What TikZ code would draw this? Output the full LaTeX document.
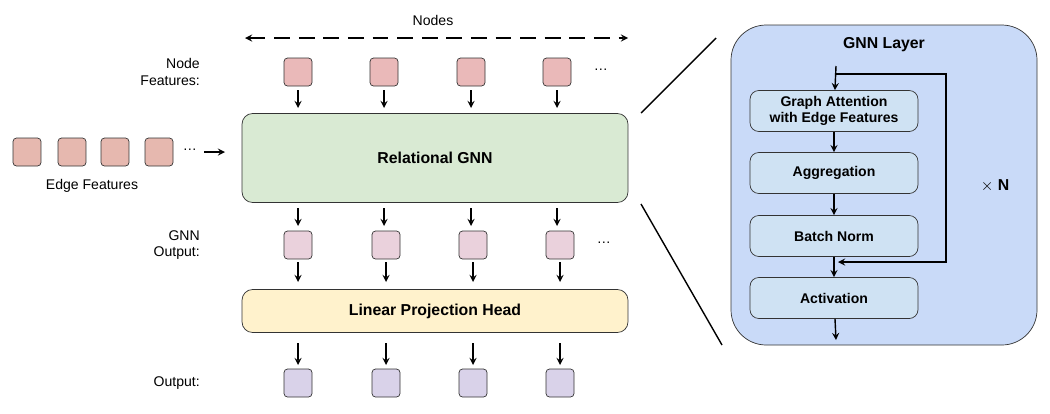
\documentclass[tikz,border=0pt]{standalone}
\usepackage{fontspec}
\setmainfont{Liberation Sans}
\usetikzlibrary{arrows}

\definecolor{nodefeat}{HTML}{EAB9B9}
\definecolor{edgefeat}{HTML}{E6B8AF}
\definecolor{gnnout}{HTML}{EAD1DC}
\definecolor{outfeat}{HTML}{D9D2E9}
\definecolor{gnngreen}{HTML}{D9EAD3}
\definecolor{headyellow}{HTML}{FFF2CC}
\definecolor{layerblue}{HTML}{C9DAF8}
\definecolor{stepblue}{HTML}{CFE2F3}

\tikzset{
  sq/.style={draw=black!80, rounded corners=2pt, minimum size=0.56cm, inner sep=0pt},
  bigbox/.style={draw=black!80, rounded corners=6pt, minimum width=7.72cm, inner sep=0pt, font=\bfseries\fontsize{9}{11}\selectfont},
  stepbox/.style={draw=black!80, fill=stepblue, rounded corners=5pt, minimum width=3.36cm, minimum height=0.82cm, inner sep=1pt, align=center, font=\bfseries\fontsize{8}{9}\selectfont},
  lbl/.style={font=\fontsize{8}{9.5}\selectfont, align=right},
  arr/.style={->, >=stealth, thick}
}

\begin{document}
\begin{tikzpicture}[x=0.02cm, y=-0.02cm]
\useasboundingbox (0,0) rectangle (1050,413);

\node[lbl] (nodes) at (433,20) {Nodes};
\draw[<->, >=stealth, thick, dash pattern=on 9pt off 5pt] (245,38) -- (628,38);

\node[lbl, anchor=east] (nflbl) at (206,72) {Node\\Features:};
\node[lbl, anchor=east] (golbl) at (206,245) {GNN\\Output:};
\node[lbl, anchor=east] (outlbl) at (206,383) {Output:};

\node[bigbox, fill=gnngreen, minimum height=1.78cm] (gnn) at (435,158) {Relational GNN};
\node[bigbox, fill=headyellow, minimum height=0.86cm] (head) at (435,311) {Linear Projection Head};

\foreach \x [count=\i] in {298,384,471,557} {
  \node[sq, fill=nodefeat] (nf\i) at (\x,72) {};
  \draw[arr] (nf\i.south) ++(0,4) -- (\x,108);
  \draw[arr] (\x,208) -- (\x,226);
}
\foreach \x [count=\i] in {298,386,473,560} {
  \node[sq, fill=gnnout] (go\i) at (\x,245) {};
  \draw[arr] (\x,262) -- (\x,282);
}
\foreach \x [count=\i] in {298,386,473,560} {
  \node[sq, fill=outfeat] (of\i) at (\x,383) {};
  \draw[arr] (\x,343) -- (\x,365);
}
\node (nfdots) at (601,70) {\fontsize{8}{9}\selectfont\dots};
\node (godots) at (604,243) {\fontsize{8}{9}\selectfont\dots};

\foreach \x [count=\i] in {27,72,115,159}
  \node[sq, fill=edgefeat] (ef\i) at (\x,152) {};
\node (efdots) at (190,150) {\fontsize{8}{9}\selectfont\dots};
\coordinate (efend) at (225,152);
\draw[arr] (204,152) -- (efend);
\node[lbl] (eflbl) at (92,186) {Edge Features};

% zoom lines
\coordinate (z1) at (716,38);
\coordinate (z2) at (722,345);
\draw[thick] (641,113) -- (z1);
\draw[thick] (641,204) -- (z2);

% GNN layer panel
\draw[draw=black!80, fill=layerblue, rounded corners=20pt] (731,25) rectangle (1037,345);
\node[font=\bfseries\fontsize{9}{11}\selectfont] (title) at (884,45) {GNN Layer};

\node[stepbox] (att) at (834,111) {Graph Attention\\with Edge Features};
\node[stepbox] (agg) at (834,173) {Aggregation};
\node[stepbox] (bn) at (834,236) {Batch Norm};
\node[stepbox] (act) at (834,298) {Activation};

\coordinate (in) at (836,66);
\coordinate (out) at (836,340);
\draw[arr] (in) -- (att);
\draw[arr] (att) -- (agg);
\draw[arr] (agg) -- (bn);
\draw[arr] (bn) -- (act);
\draw[arr] (act) -- (out);
\draw[arr] (836,74) -- (946,74) -- (946,262) -- (838,262);

\node[font=\bfseries\fontsize{9}{11}\selectfont] (times) at (995,186) {$\times$ N};

\end{tikzpicture}
\end{document}
